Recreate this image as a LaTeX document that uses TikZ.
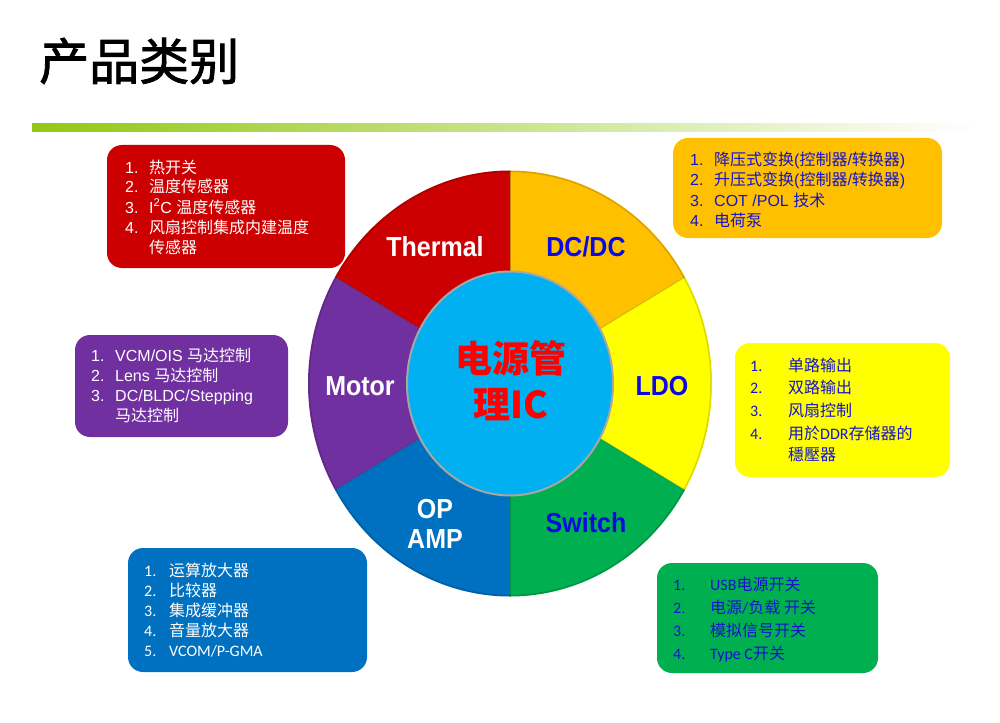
\documentclass[tikz,border=0pt]{standalone}
\usepackage{fontspec}
\setmainfont{Liberation Sans}
\newfontfamily\cjk{Noto Sans CJK SC}
\newfontfamily\cjkt[FakeBold=1.6]{Noto Sans CJK SC}
\newfontfamily\calfont{Carlito}
\newcommand{\zh}[1]{{\cjk #1}}
\newcommand{\itemno}[2]{\makebox[#1][l]{#2}}
\definecolor{cThermal}{RGB}{204,0,0}
\definecolor{cDCDC}{RGB}{255,192,0}
\definecolor{cLDO}{RGB}{255,255,0}
\definecolor{cSwitch}{RGB}{0,176,80}
\definecolor{cOPAMP}{RGB}{0,112,192}
\definecolor{cMotor}{RGB}{112,48,160}
\definecolor{cCenter}{RGB}{0,176,240}
\definecolor{barg}{RGB}{146,200,20}
\definecolor{barm}{RGB}{215,235,160}
\definecolor{listblue}{RGB}{20,20,205}
\definecolor{lblblue}{RGB}{10,10,225}
\definecolor{ctrred}{RGB}{255,0,0}
\begin{document}
\begin{tikzpicture}[x=1pt,y=-1pt,
  boxst/.style={rounded corners=15pt, inner sep=0pt, draw=none},
  lst/.style={inner sep=0pt, anchor=base west, font=\fontsize{16}{20}\selectfont},
  lstc/.style={inner sep=0pt, anchor=base west, font=\calfont\fontsize{16}{22.8}\selectfont},
  seglbl/.style={inner sep=0pt, font=\bfseries\fontsize{25}{30}\selectfont},
  ctrlbl/.style={inner sep=0pt, text=ctrred, font=\cjk\bfseries\fontsize{37}{44}\selectfont}]
\useasboundingbox (0,0) rectangle (1000,722);
\fill[white] (0,0) rectangle (1000,722);

% title
\node[anchor=west, inner sep=0pt, font=\cjkt\fontsize{50}{56}\selectfont] (title) at (39,61) {产品类别};
% gradient bar
\shade[left color=barg, middle color=barm, right color=white] (32,123.5) rectangle (975,131.5);

% wheel
\begin{scope}[shift={(510,383.5)}, yscale=-1]
  \fill[cDCDC]    (0,0) -- (30:202 and 213)  arc[start angle=30,  end angle=90,  x radius=202, y radius=213] -- cycle;
  \fill[cThermal] (0,0) -- (90:202 and 213)  arc[start angle=90,  end angle=150, x radius=202, y radius=213] -- cycle;
  \fill[cMotor]   (0,0) -- (150:202 and 213) arc[start angle=150, end angle=210, x radius=202, y radius=213] -- cycle;
  \fill[cOPAMP]   (0,0) -- (210:202 and 213) arc[start angle=210, end angle=270, x radius=202, y radius=213] -- cycle;
  \fill[cSwitch]  (0,0) -- (270:202 and 213) arc[start angle=270, end angle=330, x radius=202, y radius=213] -- cycle;
  \fill[cLDO]     (0,0) -- (330:202 and 213) arc[start angle=330, end angle=390, x radius=202, y radius=213] -- cycle;
  \foreach \a in {30,90,150,210,270,330}
    \draw[black, opacity=0.18, line width=1pt] (0,0) -- (\a:202 and 213);
  \draw[black, opacity=0.15, line width=1.5pt] (0,0) ellipse [x radius=201, y radius=212];
  \draw[fill=cCenter, draw=black!35, line width=2pt] (0,0) ellipse [x radius=103, y radius=112];
\end{scope}

% wheel labels
\node[seglbl, text=white] (lThermal) at (435,247) {\scalebox{1}[1.1]{Thermal}};
\node[seglbl, text=lblblue] (lDCDC) at (586,247) {\scalebox{1}[1.1]{DC/DC}};
\node[seglbl, text=white] (lMotor) at (360,386) {\scalebox{1}[1.1]{Motor}};
\node[seglbl, text=lblblue] (lLDO) at (662,386) {\scalebox{1}[1.1]{LDO}};
\node[seglbl, text=white] (lOP) at (435,509) {\scalebox{1}[1.1]{OP}};
\node[seglbl, text=white] (lAMP) at (435,539) {\scalebox{1}[1.1]{AMP}};
\node[seglbl, text=lblblue] (lSwitch) at (586,523) {\scalebox{1}[1.1]{Switch}};
\node[ctrlbl] (ctr1) at (511,358) {电源管};
\node[ctrlbl] (ctr2) at (511,405) {理IC};

% boxes
\node[boxst, fill=cThermal, minimum width=238, minimum height=123] (bThermal) at (226,206.5) {};
\node[boxst, fill=cDCDC, minimum width=269, minimum height=100] (bDCDC) at (807.5,188) {};
\node[boxst, fill=cMotor, minimum width=213, minimum height=102] (bMotor) at (181.5,386) {};
\node[boxst, fill=cLDO, minimum width=215, minimum height=134] (bLDO) at (842.5,410) {};
\node[boxst, fill=cOPAMP, minimum width=239, minimum height=124] (bOPAMP) at (247.5,610) {};
\node[boxst, fill=cSwitch, minimum width=221, minimum height=110] (bSwitch) at (767.5,618) {};

% box texts
\node[lst, text=white] (tThermal) at (125,173) {\begin{tabular}[t]{@{}l@{}}
\itemno{24pt}{1.}\zh{热开关}\\
\itemno{24pt}{2.}\zh{温度传感器}\\
\itemno{24pt}{3.}I\textsuperscript{2}C \zh{温度传感器}\\
\itemno{24pt}{4.}\zh{风扇控制集成内建温度}\\
\hspace{24pt}\zh{传感器}
\end{tabular}};

\node[lst, text=listblue] (tDCDC) at (690,166) {\begin{tabular}[t]{@{}l@{}}
\itemno{24pt}{1.}\zh{降压式变换}(\zh{控制器}/\zh{转换器})\\
\itemno{24pt}{2.}\zh{升压式变换}(\zh{控制器}/\zh{转换器})\\
\itemno{24pt}{3.}COT /POL \zh{技术}\\
\itemno{24pt}{4.}\zh{电荷泵}
\end{tabular}};

\node[lst, text=white] (tMotor) at (91,361) {\begin{tabular}[t]{@{}l@{}}
\itemno{24pt}{1.}VCM/OIS \zh{马达控制}\\
\itemno{24pt}{2.}Lens \zh{马达控制}\\
\itemno{24pt}{3.}DC/BLDC/Stepping\\
\hspace{24pt}\zh{马达控制}
\end{tabular}};

\node[lstc, text=listblue] (tLDO) at (750,371) {\begin{tabular}[t]{@{}l@{}}
\itemno{38pt}{1.}\zh{单路输出}\\
\itemno{38pt}{2.}\zh{双路输出}\\
\itemno{38pt}{3.}\zh{风扇控制}\\
\itemno{38pt}{4.}\zh{用於}DDR\zh{存储器的}\\[-2pt]
\hspace{38pt}\zh{穩壓器}
\end{tabular}};

\node[lstc, text=white, font=\calfont\fontsize{16}{20}\selectfont] (tOPAMP) at (144,576) {\begin{tabular}[t]{@{}l@{}}
\itemno{25pt}{1.}\zh{运算放大器}\\
\itemno{25pt}{2.}\zh{比较器}\\
\itemno{25pt}{3.}\zh{集成缓冲器}\\
\itemno{25pt}{4.}\zh{音量放大器}\\
\itemno{25pt}{5.}VCOM/P-GMA
\end{tabular}};

\node[lstc, text=listblue, font=\calfont\fontsize{16}{23}\selectfont] (tSwitch) at (673,590) {\begin{tabular}[t]{@{}l@{}}
\itemno{37pt}{1.}USB\zh{电源开关}\\
\itemno{37pt}{2.}\zh{电源}/\zh{负载} \zh{开关}\\
\itemno{37pt}{3.}\zh{模拟信号开关}\\
\itemno{37pt}{4.}Type C\zh{开关}
\end{tabular}};
\end{tikzpicture}
\end{document}
